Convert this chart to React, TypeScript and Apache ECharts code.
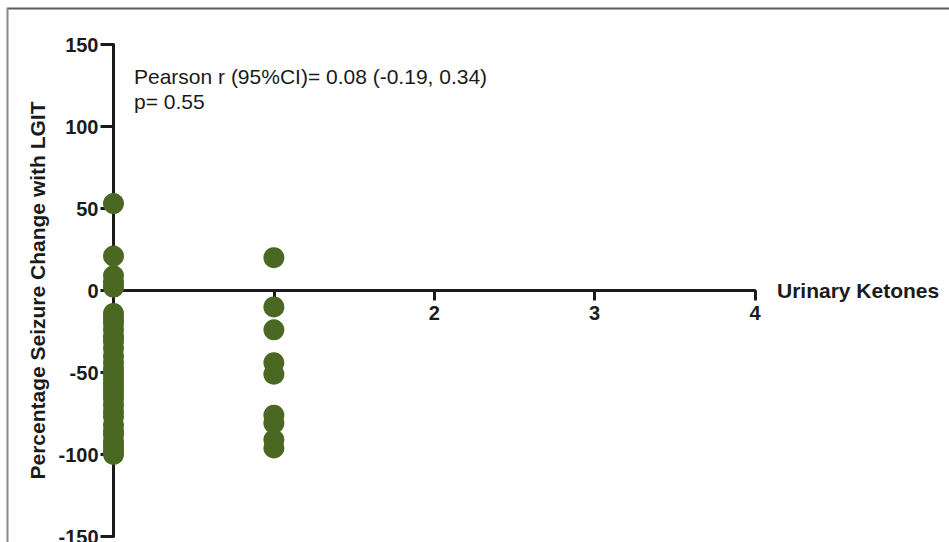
import React, { useEffect, useRef } from "react";
import * as echarts from "echarts";

// Urinary ketone level (x) against percentage seizure change (y)
const ketonesLevel0: number[] = [
  53, 21, 9, 5, 2,
  -14, -17, -20, -24, -28, -31, -35, -40, -44, -48, -51, -54, -57, -60,
  -63, -66, -70, -74, -77, -82, -86, -88, -92, -95, -98, -100,
];
const ketonesLevel1: number[] = [20, -10, -24, -44, -51, -76, -81, -91, -96];

const xTicks = ["0", "1", "2", "3", "4"];
const yTicks = [-150, -100, -50, 0, 50, 100, 150];

const statLines = ["Pearson r (95%CI)= 0.08 (-0.19, 0.34)", "p= 0.55"];

const FONT = "'Liberation Sans', Arial, Helvetica, sans-serif";
const INK = "#1b1b1b";
const DOT = "#4a6822";

const CHART_H = 542;
const GRID_BOTTOM = 5.5;

export default function App() {
  const ref = useRef<HTMLDivElement>(null);

  useEffect(() => {
    if (!ref.current) return;
    const chart = echarts.init(ref.current, null, { renderer: "svg" });

    const points: [number, number][] = [
      ...ketonesLevel0.map((v) => [0, v] as [number, number]),
      ...ketonesLevel1.map((v) => [1, v] as [number, number]),
    ];

    chart.setOption({
      animation: false,
      backgroundColor: "#ffffff",
      grid: {
        left: 113.5,
        right: 194,
        top: 44.5,
        bottom: GRID_BOTTOM,
        containLabel: false,
        outerBoundsMode: "none",
      },
      xAxis: {
        type: "value",
        position: "bottom",
        min: 0,
        max: 4,
        interval: 1,
        name: "Urinary Ketones",
        nameLocation: "end",
        nameGap: 22,
        nameTextStyle: {
          fontFamily: FONT,
          fontWeight: "bold",
          fontSize: 21,
          color: INK,
          verticalAlign: "middle",
          align: "left",
        },
        axisLine: { onZero: false, lineStyle: { color: INK, width: 3 } },
        axisTick: { show: true, length: 10, lineStyle: { color: INK, width: 3 } },
        axisLabel: {
          fontFamily: FONT,
          fontWeight: "bold",
          fontSize: 20,
          color: INK,
          margin: 12,
          formatter: (v: number) => {
            const s = xTicks[Math.round(v)];
            return v >= 2 ? s : "";
          },
        },
        splitLine: { show: false },
        z: 1,
      },
      yAxis: {
        type: "value",
        min: yTicks[0],
        max: yTicks[yTicks.length - 1],
        interval: 50,
        name: "Percentage Seizure Change with LGIT",
        nameLocation: "middle",
        nameGap: 66,
        nameTextStyle: {
          fontFamily: FONT,
          fontWeight: "bold",
          fontSize: 21,
          color: INK,
        },
        axisLine: { show: true, onZero: false, lineStyle: { color: INK, width: 3 } },
        axisTick: { show: true, length: 13, lineStyle: { color: INK, width: 3 } },
        axisLabel: {
          fontFamily: FONT,
          fontWeight: "bold",
          fontSize: 20,
          color: INK,
          margin: 15,
        },
        splitLine: { show: false },
      },
      series: [
        {
          type: "scatter",
          data: points,
          symbol: "circle",
          symbolSize: 21,
          itemStyle: { color: DOT, opacity: 1 },
          z: 5,
        },
      ],
      graphic: [
        {
          type: "line",
          shape: { x1: 7, y1: 8.5, x2: 949, y2: 8.5 },
          style: { stroke: "#5a5a5a", lineWidth: 2 },
        },
        {
          type: "line",
          shape: { x1: 7.5, y1: 8, x2: 7.5, y2: 542 },
          style: { stroke: "#8a8a8a", lineWidth: 2 },
        },
        {
          type: "text",
          left: 134,
          top: 64,
          style: {
            text: statLines.join("\n"),
            fontFamily: FONT,
            fontSize: 21,
            lineHeight: 25,
            fill: "#1a1a1a",
          },
        },
      ],
    });

    // Lift the x axis (line, ticks and labels) up to the y = 0 line.
    const zeroY = chart.convertToPixel({ gridIndex: 0 }, [0, 0])[1];
    const gridBottomY = CHART_H - GRID_BOTTOM;
    chart.setOption({ xAxis: { offset: -(gridBottomY - zeroY) } });

    return () => chart.dispose();
  }, []);

  return (
    <div
      ref={ref}
      style={{ position: "fixed", left: 0, top: 0, width: 949, height: CHART_H }}
    />
  );
}
